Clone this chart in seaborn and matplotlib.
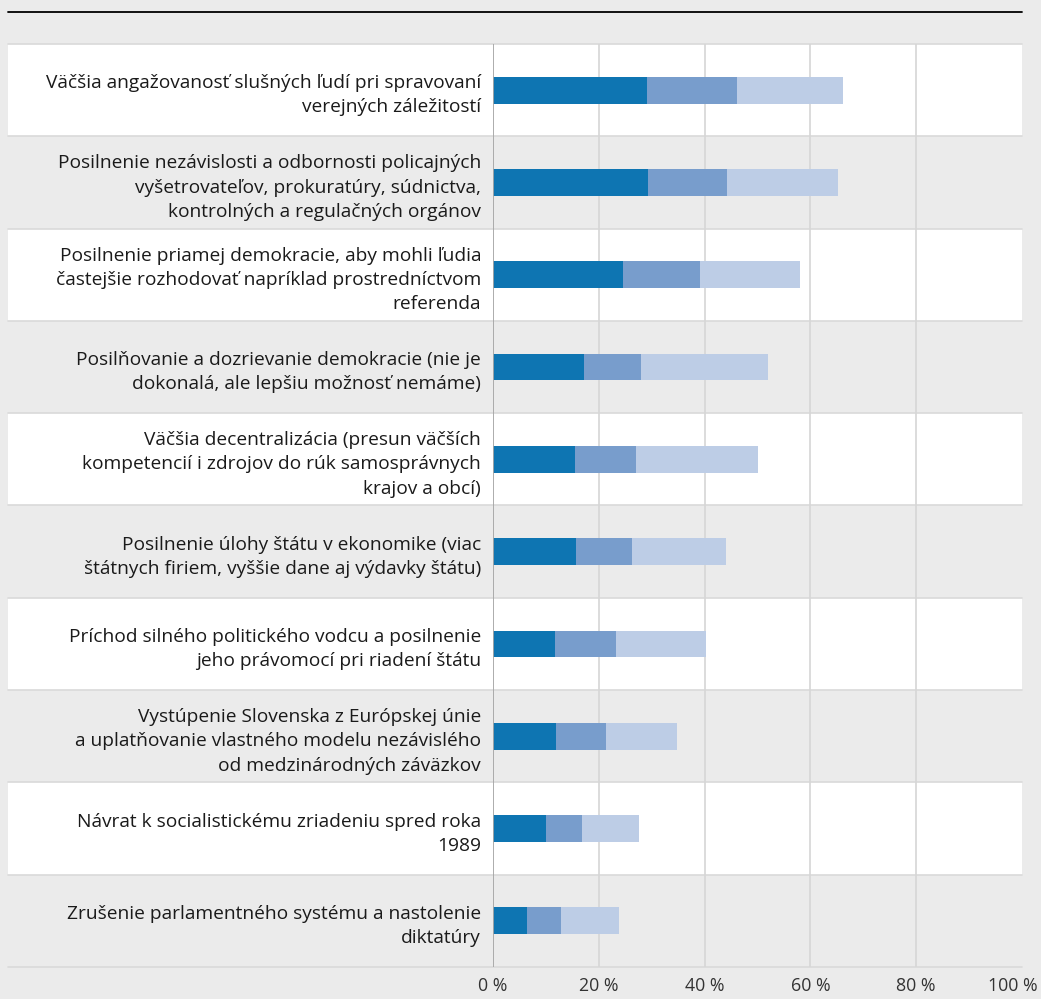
import matplotlib.pyplot as plt
import matplotlib.transforms as mtransforms
from matplotlib.patches import Rectangle
from matplotlib.lines import Line2D
import seaborn as sns
import pandas as pd
import numpy as np

# Kategorie (popisky riadkov)
kategorie = [
    'Väčšia angažovanosť slušných ľudí pri spravovaní\nverejných záležitostí',
    'Posilnenie nezávislosti a odbornosti policajných\nvyšetrovateľov, prokuratúry, súdnictva,\nkontrolných a regulačných orgánov',
    'Posilnenie priamej demokracie, aby mohli ľudia\nčastejšie rozhodovať napríklad prostredníctvom\nreferenda',
    'Posilňovanie a dozrievanie demokracie (nie je\ndokonalá, ale lepšiu možnosť nemáme)',
    'Väčšia decentralizácia (presun väčších\nkompetencií i zdrojov do rúk samosprávnych\nkrajov a obcí)',
    'Posilnenie úlohy štátu v ekonomike (viac\nštátnych firiem, vyššie dane aj výdavky štátu)',
    'Príchod silného politického vodcu a posilnenie\njeho právomocí pri riadení štátu',
    'Vystúpenie Slovenska z Európskej únie\na uplatňovanie vlastného modelu nezávislého\nod medzinárodných záväzkov',
    'Návrat k socialistickému zriadeniu spred roka\n1989',
    'Zrušenie parlamentného systému a nastolenie\ndiktatúry',
]

# Hodnoty troch segmentov (v %)
seg1 = [29.1, 29.3, 24.6, 17.2, 15.5, 15.7, 11.7, 11.9, 10.0, 6.4]
seg2 = [17.0, 14.9, 14.6, 10.8, 11.5, 10.6, 11.6, 9.5, 6.8, 6.5]
seg3 = [20.1, 21.0, 18.9, 24.0, 23.1, 17.7, 17.0, 13.4, 10.8, 10.9]

x_ticky = [0, 20, 40, 60, 80, 100]
x_popisky = ['0 %', '20 %', '40 %', '60 %', '80 %', '100 %']

farby = ['#0e75b2', '#789dcc', '#bdcde6']
POZADIE = '#ebebeb'

df = pd.DataFrame({'kategoria': kategorie, 's1': seg1, 's2': seg2, 's3': seg3})
df['c1'] = df['s1']
df['c2'] = df['s1'] + df['s2']
df['c3'] = df['s1'] + df['s2'] + df['s3']

sns.set_style('white')
plt.rcParams['font.family'] = ['Open Sans', 'DejaVu Sans']

W, H = 1041, 999
fig = plt.figure(figsize=(W / 100, H / 100), dpi=100)
fig.patch.set_facecolor(POZADIE)
ax = fig.add_axes([493 / W, 1 - 967 / H, (1022 - 493) / W, (967 - 44) / H])
ax.patch.set_visible(False)

# Stlpce (od najdlhsieho po najkratsi, aby vznikol skladany graf)
for stlpec, farba in zip(['c3', 'c2', 'c1'], farby[::-1]):
    sns.barplot(data=df, x=stlpec, y='kategoria', orient='h', color=farba,
                width=0.29, saturation=1, linewidth=0, ax=ax, zorder=3)

ax.set_xlim(0, 100)
ax.set_ylim(len(kategorie) - 0.5, -0.5)
ax.set_xlabel('')
ax.set_ylabel('')

# Pozadie riadkov (striedavo biele a sive) cez celu sirku
trans = mtransforms.blended_transform_factory(fig.transFigure, ax.transData)
for i in range(len(kategorie)):
    farba_riadku = 'white' if i % 2 == 0 else POZADIE
    ax.add_patch(Rectangle((8 / W, i - 0.5), (1022 - 8) / W, 1, transform=trans,
                           facecolor=farba_riadku, edgecolor='none', zorder=0, clip_on=False))
for i in range(len(kategorie) + 1):
    ax.add_line(Line2D([8 / W, 1022 / W], [i - 0.5, i - 0.5], transform=trans,
                       color='#d9d9d9', lw=1.2, zorder=1, clip_on=False))

# Mriezka
for t in x_ticky[1:-1]:
    ax.axvline(t, color='#d6d6d6', lw=1.2, zorder=2)
ax.axvline(0, color='#a6a6a6', lw=1.3, zorder=4)

ax.set_xticks(x_ticky)
ax.set_xticklabels(x_popisky, fontsize=12.8, color='#333333')
ax.tick_params(axis='x', length=0, pad=7)
ax.tick_params(axis='y', length=0, pad=8.6)
for lbl in ax.get_yticklabels():
    lbl.set_fontsize(13.8)
    lbl.set_color('#1a1a1a')
    lbl.set_multialignment('right')
    lbl.set_linespacing(1.45)

# posledny popisok posunuty dolava, aby sa zmestil
posledny = ax.get_xticklabels()[-1]
posledny.set_transform(posledny.get_transform() +
                       mtransforms.ScaledTranslation(-9 / 100, 0, fig.dpi_scale_trans))

for s in ax.spines.values():
    s.set_visible(False)

# Horna cierna ciara
fig.add_artist(Line2D([8 / W, 1022 / W], [1 - 12 / H, 1 - 12 / H],
                      transform=fig.transFigure, color='black', lw=1.3))

plt.savefig('out.png', dpi=100, facecolor=fig.get_facecolor())
